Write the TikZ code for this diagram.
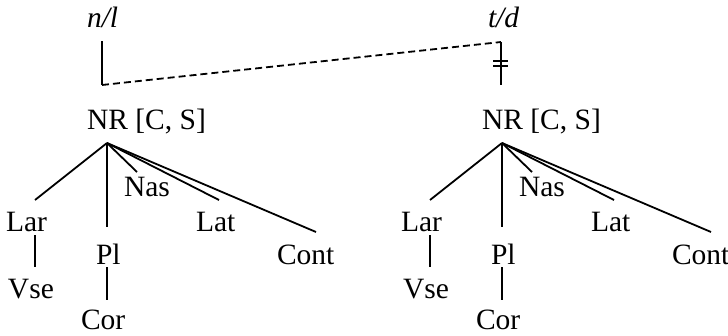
\documentclass[tikz,border=0pt]{standalone}
\usepackage{fontspec}
\setmainfont{Liberation Serif}
\begin{document}
\begin{tikzpicture}[x=1pt,y=-1pt,
  lbl/.style={anchor=base west,inner sep=0pt,outer sep=0pt,font=\fontsize{29.5}{32}\selectfont},
  conn/.style={line width=1.8pt},
  dconn/.style={line width=1.8pt,dash pattern=on 7pt off 4pt}]
\useasboundingbox (0,0) rectangle (728,335);
% top segments
\node[lbl,font=\fontsize{29.5}{32}\selectfont\itshape] (nl) at (87,27) {n/l};
\node[lbl,font=\fontsize{29.5}{32}\selectfont\itshape] (td) at (488,27) {t/d};
\coordinate (nlA) at (102,41);
\coordinate (nlB) at (102,85);
\coordinate (tdA) at (501,42);
\coordinate (tdB) at (501,85);
\coordinate (barAL) at (493,61); \coordinate (barAR) at (508,61);
\coordinate (barBL) at (493,66); \coordinate (barBR) at (508,66);
\draw[conn] (nlA) -- (nlB);
\draw[dconn] (nlB) -- (tdA);
\draw[conn] (tdA) -- (tdB);
\draw[conn] (barAL) -- (barAR);
\draw[conn] (barBL) -- (barBR);
% two trees
\foreach \p/\dx in {L/0,R/395}{
  \begin{scope}[xshift=\dx pt]
  \node[lbl] (\p-nr) at (87,129) {NR [C, S]};
  \node[lbl] (\p-lar) at (6,231) {Lar};
  \node[lbl] (\p-pl) at (96,264) {Pl};
  \node[lbl] (\p-nas) at (124,196) {Nas};
  \node[lbl] (\p-lat) at (196,231) {Lat};
  \node[lbl] (\p-cont) at (277,264) {Cont};
  \node[lbl] (\p-vse) at (8,298) {Vse};
  \node[lbl] (\p-cor) at (81,329) {Cor};
  \coordinate (\p-apex) at (107,143);
  \coordinate (\p-larT) at (35,200);
  \coordinate (\p-larB) at (35,235);
  \coordinate (\p-vseT) at (35,267);
  \coordinate (\p-plT) at (107,227);
  \coordinate (\p-plB) at (107,267);
  \coordinate (\p-corT) at (107,300);
  \coordinate (\p-nasT) at (137,172);
  \coordinate (\p-latT) at (219,200);
  \coordinate (\p-contT) at (316,232);
  \draw[conn] (\p-apex) -- (\p-larT);
  \draw[conn] (\p-apex) -- (\p-plT);
  \draw[conn] (\p-apex) -- (\p-nasT);
  \draw[conn] (\p-apex) -- (\p-latT);
  \draw[conn] (\p-apex) -- (\p-contT);
  \draw[conn] (\p-larB) -- (\p-vseT);
  \draw[conn] (\p-plB) -- (\p-corT);
  \end{scope}
}
\end{tikzpicture}
\end{document}
